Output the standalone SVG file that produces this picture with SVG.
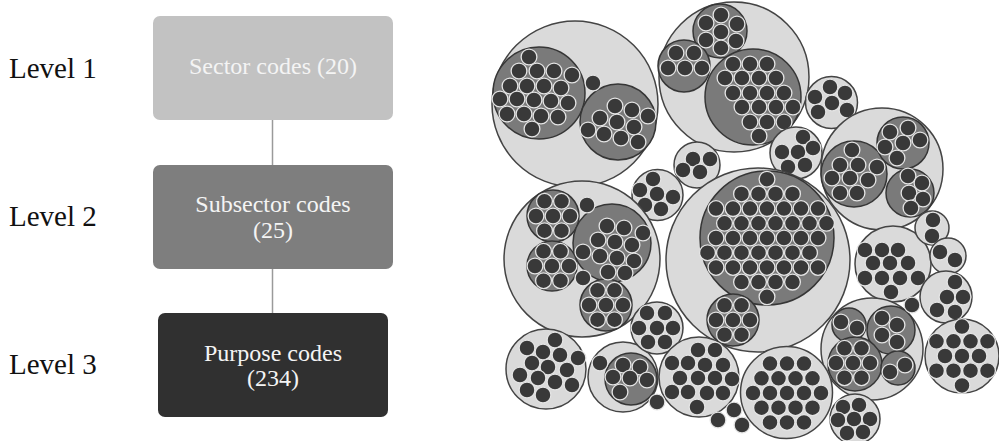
<svg xmlns="http://www.w3.org/2000/svg" width="999" height="441" viewBox="0 0 999 441">
  <style>
    .lvl{font-family:"Liberation Serif","Times New Roman",serif;font-size:29px;fill:#111}
    .bt{font-family:"Liberation Serif","Times New Roman",serif;font-size:24px;text-anchor:middle}
    .link{stroke:#9a9a9a;stroke-width:1.5;fill:none}
    .s{fill:#dadada;stroke:#444;stroke-width:1.5}
    .ss{fill:#7a7a7a;stroke:#363636;stroke-width:1.5}
    .p circle,circle.p{fill:#393939;stroke:#e4e4e4;stroke-width:1.3}
  </style>

  <!-- hierarchy legend -->
  <g id="levels">
    <text class="lvl" x="9" y="78">Level 1</text>
    <text class="lvl" x="9" y="226">Level 2</text>
    <text class="lvl" x="9" y="374">Level 3</text>
  </g>

  <g id="connectors">
    <line class="link" x1="272.5" y1="120" x2="272.5" y2="165"/>
    <line class="link" x1="272.5" y1="269" x2="272.5" y2="313"/>
  </g>

  <g id="sector-box">
    <rect x="153" y="16" width="240" height="104" rx="7" fill="#c2c2c2"/>
    <text class="bt" x="273" y="74" fill="#f4f4f4">Sector codes (20)</text>
  </g>
  <g id="subsector-box">
    <rect x="153" y="165" width="240" height="104" rx="7" fill="#7e7e7e"/>
    <text class="bt" x="273" y="212" fill="#f4f4f4">Subsector codes</text>
    <text class="bt" x="273" y="238" fill="#f4f4f4">(25)</text>
  </g>
  <g id="purpose-box">
    <rect x="158" y="313" width="230" height="104" rx="7" fill="#303030"/>
    <text class="bt" x="273" y="361" fill="#f4f4f4">Purpose codes</text>
    <text class="bt" x="273" y="386" fill="#f4f4f4">(234)</text>
  </g>

  <!-- circle packing: sectors (light) > subsectors (mid grey) > purpose codes (dots) -->
  <g id="pack">
    <g id="sA">
      <circle class="s" cx="575" cy="104" r="83"/>
      <circle class="ss" cx="539" cy="93" r="46"/>
      <circle class="ss" cx="618" cy="122" r="38"/>
      <g class="p">
        <circle cx="529" cy="57" r="7.9"/><circle cx="519" cy="71" r="7.9"/><circle cx="537" cy="71" r="7.9"/><circle cx="554" cy="71" r="7.9"/><circle cx="572" cy="75" r="7.9"/>
        <circle cx="510" cy="86" r="7.9"/><circle cx="527" cy="86" r="7.9"/><circle cx="544" cy="86" r="7.9"/><circle cx="561" cy="88" r="7.9"/>
        <circle cx="500" cy="99" r="7.9"/><circle cx="517" cy="99" r="7.9"/><circle cx="534" cy="100" r="7.9"/><circle cx="551" cy="101" r="7.9"/><circle cx="568" cy="103" r="7.9"/>
        <circle cx="507" cy="114" r="7.9"/><circle cx="524" cy="114" r="7.9"/><circle cx="541" cy="116" r="7.9"/><circle cx="558" cy="117" r="7.9"/><circle cx="532" cy="129" r="7.9"/>
        <circle cx="615" cy="106" r="7.9"/><circle cx="632" cy="110" r="7.9"/><circle cx="648" cy="116" r="7.9"/>
        <circle cx="600" cy="118" r="7.9"/><circle cx="617" cy="122" r="7.9"/><circle cx="634" cy="127" r="7.9"/>
        <circle cx="588" cy="130" r="7.9"/><circle cx="604" cy="134" r="7.9"/><circle cx="621" cy="138" r="7.9"/><circle cx="638" cy="142" r="7.9"/>
        <circle cx="593" cy="83" r="7.9"/>
      </g>
    </g>

    <g id="sB">
      <circle class="s" cx="734" cy="77" r="75"/>
      <circle class="ss" cx="720" cy="31" r="27"/>
      <circle class="ss" cx="684" cy="66" r="26"/>
      <circle class="ss" cx="753" cy="97" r="48"/>
      <g class="p">
        <circle cx="721" cy="15" r="7.9"/><circle cx="706" cy="23" r="7.9"/><circle cx="737" cy="24" r="7.9"/><circle cx="721" cy="32" r="7.9"/><circle cx="706" cy="40" r="7.9"/><circle cx="736" cy="41" r="7.9"/><circle cx="721" cy="48" r="7.9"/>
        <circle cx="676" cy="53" r="7.9"/><circle cx="694" cy="53" r="7.9"/><circle cx="668" cy="68" r="7.9"/><circle cx="685" cy="68" r="7.9"/><circle cx="702" cy="68" r="7.9"/>
        <circle cx="733" cy="64" r="7.9"/><circle cx="750" cy="64" r="7.9"/><circle cx="767" cy="64" r="7.9"/>
        <circle cx="725" cy="78" r="7.9"/><circle cx="742" cy="78" r="7.9"/><circle cx="759" cy="78" r="7.9"/><circle cx="776" cy="78" r="7.9"/>
        <circle cx="733" cy="93" r="7.9"/><circle cx="750" cy="93" r="7.9"/><circle cx="767" cy="93" r="7.9"/><circle cx="784" cy="93" r="7.9"/>
        <circle cx="742" cy="107" r="7.9"/><circle cx="759" cy="107" r="7.9"/><circle cx="776" cy="107" r="7.9"/><circle cx="793" cy="107" r="7.9"/>
        <circle cx="750" cy="122" r="7.9"/><circle cx="767" cy="122" r="7.9"/><circle cx="784" cy="122" r="7.9"/><circle cx="759" cy="136" r="7.9"/>
      </g>
    </g>

    <g id="sC">
      <circle class="s" cx="831.5" cy="102.5" r="26"/>
      <g class="p">
        <circle cx="830" cy="87" r="7.9"/><circle cx="815" cy="97" r="7.9"/><circle cx="845" cy="93" r="7.9"/><circle cx="832" cy="103" r="7.9"/><circle cx="818" cy="112" r="7.9"/><circle cx="847" cy="110" r="7.9"/>
      </g>
    </g>

    <g id="sD">
      <circle class="s" cx="882" cy="169" r="61"/>
      <circle class="ss" cx="854" cy="174" r="33"/>
      <circle class="ss" cx="903" cy="143" r="26"/>
      <circle class="ss" cx="910" cy="193" r="24"/>
      <g class="p">
        <circle cx="852" cy="150" r="7.9"/><circle cx="840" cy="165" r="7.9"/><circle cx="858" cy="165" r="7.9"/><circle cx="877" cy="167" r="7.9"/>
        <circle cx="832" cy="178" r="7.9"/><circle cx="850" cy="178" r="7.9"/><circle cx="868" cy="180" r="7.9"/><circle cx="840" cy="193" r="7.9"/><circle cx="857" cy="193" r="7.9"/>
        <circle cx="890" cy="132" r="7.9"/><circle cx="908" cy="128" r="7.9"/><circle cx="885" cy="147" r="7.9"/><circle cx="903" cy="143" r="7.9"/><circle cx="920" cy="140" r="7.9"/><circle cx="897" cy="158" r="7.9"/>
        <circle cx="908" cy="176" r="7.9"/><circle cx="922" cy="183" r="7.9"/><circle cx="909" cy="193" r="7.9"/><circle cx="923" cy="199" r="7.9"/><circle cx="911" cy="208" r="7.9"/>
      </g>
    </g>

    <g id="sE">
      <circle class="s" cx="796" cy="153" r="26"/>
      <g class="p">
        <circle cx="803" cy="137" r="7.9"/><circle cx="782" cy="152" r="7.9"/><circle cx="798" cy="152" r="7.9"/><circle cx="813" cy="148" r="7.9"/><circle cx="788" cy="167" r="7.9"/><circle cx="805" cy="165" r="7.9"/>
      </g>
    </g>

    <g id="sF">
      <circle class="s" cx="697" cy="165" r="23"/>
      <g class="p">
        <circle cx="693" cy="159" r="7.9"/><circle cx="710" cy="159" r="7.9"/><circle cx="683" cy="170" r="7.9"/><circle cx="700" cy="172" r="7.9"/>
      </g>
    </g>

    <g id="sG">
      <circle class="s" cx="657.5" cy="195" r="25.5"/>
      <g class="p">
        <circle cx="653" cy="179" r="7.9"/><circle cx="640" cy="190" r="7.9"/><circle cx="657" cy="194" r="7.9"/><circle cx="673" cy="197" r="7.9"/><circle cx="645" cy="205" r="7.9"/><circle cx="661" cy="209" r="7.9"/>
      </g>
    </g>

    <g id="sH">
      <circle class="s" cx="582" cy="259" r="78"/>
      <circle class="ss" cx="553" cy="216" r="26"/>
      <circle class="ss" cx="612" cy="243" r="39"/>
      <circle class="ss" cx="552" cy="266" r="25"/>
      <circle class="ss" cx="606" cy="305" r="26"/>
      <g class="p">
        <circle cx="553" cy="216" r="7.9"/><circle cx="536" cy="216" r="7.9"/><circle cx="570" cy="216" r="7.9"/><circle cx="544.5" cy="201.3" r="7.9"/><circle cx="561.5" cy="201.3" r="7.9"/><circle cx="544.5" cy="230.7" r="7.9"/><circle cx="561.5" cy="230.7" r="7.9"/>
        <circle cx="607" cy="226" r="7.9"/><circle cx="624" cy="228" r="7.9"/><circle cx="643" cy="233" r="7.9"/>
        <circle cx="598" cy="240" r="7.9"/><circle cx="615" cy="242" r="7.9"/><circle cx="632" cy="245" r="7.9"/>
        <circle cx="583" cy="252" r="7.9"/><circle cx="600" cy="256" r="7.9"/><circle cx="617" cy="258" r="7.9"/><circle cx="634" cy="261" r="7.9"/>
        <circle cx="608" cy="272" r="7.9"/><circle cx="625" cy="273" r="7.9"/>
        <circle cx="552" cy="266" r="7.9"/><circle cx="535" cy="266" r="7.9"/><circle cx="569" cy="266" r="7.9"/><circle cx="543.5" cy="251.3" r="7.9"/><circle cx="560.5" cy="251.3" r="7.9"/><circle cx="543.5" cy="280.7" r="7.9"/><circle cx="560.5" cy="280.7" r="7.9"/>
        <circle cx="606" cy="305" r="7.9"/><circle cx="589" cy="305" r="7.9"/><circle cx="623" cy="305" r="7.9"/><circle cx="597.5" cy="290.3" r="7.9"/><circle cx="614.5" cy="290.3" r="7.9"/><circle cx="597.5" cy="319.7" r="7.9"/><circle cx="614.5" cy="319.7" r="7.9"/>
        <circle cx="587" cy="205" r="7.9"/><circle cx="583" cy="278" r="7.9"/>
      </g>
    </g>

    <g id="sI">
      <circle class="s" cx="758" cy="260" r="92"/>
      <circle class="ss" cx="767" cy="238" r="67"/>
      <circle class="ss" cx="733" cy="320" r="26"/>
      <g class="p">
        <circle cx="767" cy="179.2" r="7.9"/>
        <circle cx="741.5" cy="193.9" r="7.9"/><circle cx="758.5" cy="193.9" r="7.9"/><circle cx="775.5" cy="193.9" r="7.9"/><circle cx="792.5" cy="193.9" r="7.9"/>
        <circle cx="716" cy="208.6" r="7.9"/><circle cx="733" cy="208.6" r="7.9"/><circle cx="750" cy="208.6" r="7.9"/><circle cx="767" cy="208.6" r="7.9"/><circle cx="784" cy="208.6" r="7.9"/><circle cx="801" cy="208.6" r="7.9"/><circle cx="818" cy="208.6" r="7.9"/>
        <circle cx="724.5" cy="223.3" r="7.9"/><circle cx="741.5" cy="223.3" r="7.9"/><circle cx="758.5" cy="223.3" r="7.9"/><circle cx="775.5" cy="223.3" r="7.9"/><circle cx="792.5" cy="223.3" r="7.9"/><circle cx="809.5" cy="223.3" r="7.9"/><circle cx="826.5" cy="223.3" r="7.9"/>
        <circle cx="716" cy="238" r="7.9"/><circle cx="733" cy="238" r="7.9"/><circle cx="750" cy="238" r="7.9"/><circle cx="767" cy="238" r="7.9"/><circle cx="784" cy="238" r="7.9"/><circle cx="801" cy="238" r="7.9"/><circle cx="818" cy="238" r="7.9"/>
        <circle cx="707.5" cy="252.7" r="7.9"/><circle cx="724.5" cy="252.7" r="7.9"/><circle cx="741.5" cy="252.7" r="7.9"/><circle cx="758.5" cy="252.7" r="7.9"/><circle cx="775.5" cy="252.7" r="7.9"/><circle cx="792.5" cy="252.7" r="7.9"/><circle cx="809.5" cy="252.7" r="7.9"/>
        <circle cx="716" cy="267.4" r="7.9"/><circle cx="733" cy="267.4" r="7.9"/><circle cx="750" cy="267.4" r="7.9"/><circle cx="767" cy="267.4" r="7.9"/><circle cx="784" cy="267.4" r="7.9"/><circle cx="801" cy="267.4" r="7.9"/><circle cx="818" cy="267.4" r="7.9"/>
        <circle cx="741.5" cy="282.1" r="7.9"/><circle cx="758.5" cy="282.1" r="7.9"/><circle cx="775.5" cy="282.1" r="7.9"/><circle cx="792.5" cy="282.1" r="7.9"/>
        <circle cx="767" cy="296.8" r="7.9"/>
        <circle cx="733" cy="320" r="7.9"/><circle cx="716" cy="320" r="7.9"/><circle cx="750" cy="320" r="7.9"/><circle cx="724.5" cy="305.3" r="7.9"/><circle cx="741.5" cy="305.3" r="7.9"/><circle cx="724.5" cy="334.7" r="7.9"/><circle cx="741.5" cy="334.7" r="7.9"/>
      </g>
    </g>

    <g id="sJ">
      <circle class="s" cx="893" cy="264" r="38"/>
      <g class="p">
        <circle cx="865" cy="250" r="7.9"/><circle cx="882" cy="250" r="7.9"/><circle cx="898" cy="250" r="7.9"/>
        <circle cx="873" cy="263" r="7.9"/><circle cx="890" cy="263" r="7.9"/><circle cx="908" cy="263" r="7.9"/>
        <circle cx="865" cy="278" r="7.9"/><circle cx="882" cy="278" r="7.9"/><circle cx="900" cy="278" r="7.9"/><circle cx="918" cy="278" r="7.9"/>
        <circle cx="891" cy="292" r="7.9"/>
      </g>
    </g>

    <g id="sK">
      <circle class="s" cx="932" cy="228" r="17"/>
      <g class="p"><circle cx="933" cy="220" r="7.9"/><circle cx="932" cy="236" r="7.9"/></g>
    </g>
    <g id="sL">
      <circle class="s" cx="948" cy="256" r="18"/>
      <g class="p"><circle cx="940" cy="252" r="7.9"/><circle cx="955" cy="260" r="7.9"/></g>
    </g>
    <g id="sM">
      <circle class="s" cx="946" cy="297" r="26"/>
      <g class="p">
        <circle cx="955" cy="282" r="7.9"/><circle cx="947" cy="297" r="7.9"/><circle cx="963" cy="297" r="7.9"/><circle cx="937" cy="310" r="7.9"/><circle cx="955" cy="312" r="7.9"/>
      </g>
    </g>
    <g id="sN">
      <circle class="s" cx="962" cy="356" r="37"/>
      <g class="p">
        <circle cx="962" cy="326.6" r="7.9"/>
        <circle cx="936.5" cy="341.3" r="7.9"/><circle cx="953.5" cy="341.3" r="7.9"/><circle cx="970.5" cy="341.3" r="7.9"/><circle cx="987.5" cy="341.3" r="7.9"/>
        <circle cx="945" cy="356" r="7.9"/><circle cx="962" cy="356" r="7.9"/><circle cx="979" cy="356" r="7.9"/>
        <circle cx="936.5" cy="370.7" r="7.9"/><circle cx="953.5" cy="370.7" r="7.9"/><circle cx="970.5" cy="370.7" r="7.9"/><circle cx="987.5" cy="370.7" r="7.9"/>
        <circle cx="962" cy="385.4" r="7.9"/>
      </g>
    </g>

    <g id="sO">
      <circle class="s" cx="872" cy="349" r="51"/>
      <circle class="ss" cx="849" cy="325" r="17"/>
      <circle class="ss" cx="891" cy="330" r="24"/>
      <circle class="ss" cx="855" cy="364" r="27"/>
      <circle class="ss" cx="898" cy="368" r="17"/>
      <g class="p">
        <circle cx="841" cy="322" r="7.9"/><circle cx="857" cy="328" r="7.9"/>
        <circle cx="882" cy="318" r="7.9"/><circle cx="897" cy="325" r="7.9"/><circle cx="882" cy="335" r="7.9"/><circle cx="897" cy="342" r="7.9"/>
        <circle cx="853" cy="363" r="7.9"/><circle cx="836" cy="363" r="7.9"/><circle cx="870" cy="363" r="7.9"/><circle cx="844.5" cy="348.3" r="7.9"/><circle cx="861.5" cy="348.3" r="7.9"/><circle cx="844.5" cy="377.7" r="7.9"/><circle cx="861.5" cy="377.7" r="7.9"/>
        <circle cx="890" cy="372" r="7.9"/><circle cx="905" cy="365" r="7.9"/>
      </g>
    </g>

    <g id="sP">
      <circle class="s" cx="786.5" cy="392.5" r="46"/>
      <g class="p">
        <circle cx="770" cy="363.6" r="7.9"/><circle cx="787" cy="363.6" r="7.9"/><circle cx="804" cy="363.6" r="7.9"/>
        <circle cx="761.5" cy="378.3" r="7.9"/><circle cx="778.5" cy="378.3" r="7.9"/><circle cx="795.5" cy="378.3" r="7.9"/><circle cx="812.5" cy="378.3" r="7.9"/>
        <circle cx="753" cy="393" r="7.9"/><circle cx="770" cy="393" r="7.9"/><circle cx="787" cy="393" r="7.9"/><circle cx="804" cy="393" r="7.9"/><circle cx="821" cy="393" r="7.9"/>
        <circle cx="761.5" cy="407.7" r="7.9"/><circle cx="778.5" cy="407.7" r="7.9"/><circle cx="795.5" cy="407.7" r="7.9"/><circle cx="812.5" cy="407.7" r="7.9"/>
        <circle cx="770" cy="422.4" r="7.9"/><circle cx="787" cy="422.4" r="7.9"/><circle cx="804" cy="422.4" r="7.9"/>
      </g>
    </g>

    <g id="sQ">
      <circle class="s" cx="855" cy="419" r="25"/>
      <g class="p">
        <circle cx="843" cy="407" r="7.9"/><circle cx="859" cy="405" r="7.9"/><circle cx="838" cy="420" r="7.9"/><circle cx="854" cy="419" r="7.9"/><circle cx="870" cy="419" r="7.9"/><circle cx="847" cy="433" r="7.9"/><circle cx="863" cy="432" r="7.9"/>
      </g>
    </g>

    <g id="sS">
      <circle class="s" cx="546" cy="369" r="40"/>
      <g class="p">
        <circle cx="555" cy="340" r="7.9"/>
        <circle cx="527" cy="348" r="7.9"/><circle cx="543" cy="352" r="7.9"/><circle cx="560" cy="355" r="7.9"/><circle cx="578" cy="358" r="7.9"/>
        <circle cx="532" cy="363" r="7.9"/><circle cx="548" cy="367" r="7.9"/><circle cx="567" cy="370" r="7.9"/>
        <circle cx="520" cy="375" r="7.9"/><circle cx="538" cy="378" r="7.9"/><circle cx="555" cy="382" r="7.9"/><circle cx="572" cy="385" r="7.9"/>
        <circle cx="527" cy="390" r="7.9"/><circle cx="543" cy="395" r="7.9"/>
      </g>
    </g>

    <g id="sT">
      <circle class="s" cx="623" cy="377" r="35"/>
      <circle class="ss" cx="631" cy="379" r="26"/>
      <g class="p">
        <circle cx="600" cy="363" r="7.9"/>
        <circle cx="623" cy="365" r="7.9"/><circle cx="640" cy="367" r="7.9"/><circle cx="613" cy="377" r="7.9"/><circle cx="630" cy="378" r="7.9"/><circle cx="647" cy="380" r="7.9"/><circle cx="620" cy="392" r="7.9"/>
      </g>
    </g>

    <g id="sU">
      <circle class="s" cx="657" cy="328" r="26"/>
      <g class="p">
        <circle cx="647" cy="313" r="7.9"/><circle cx="665" cy="313" r="7.9"/><circle cx="639" cy="328" r="7.9"/><circle cx="657" cy="328" r="7.9"/><circle cx="673" cy="328" r="7.9"/><circle cx="648" cy="342" r="7.9"/><circle cx="665" cy="342" r="7.9"/>
      </g>
    </g>

    <g id="sV">
      <circle class="s" cx="699" cy="377" r="40"/>
      <g class="p">
        <circle cx="698" cy="350" r="7.9"/><circle cx="715" cy="350" r="7.9"/>
        <circle cx="672" cy="363" r="7.9"/><circle cx="688" cy="363" r="7.9"/><circle cx="705" cy="365" r="7.9"/><circle cx="723" cy="365" r="7.9"/>
        <circle cx="680" cy="378" r="7.9"/><circle cx="698" cy="378" r="7.9"/><circle cx="715" cy="378" r="7.9"/><circle cx="732" cy="379" r="7.9"/>
        <circle cx="672" cy="392" r="7.9"/><circle cx="688" cy="392" r="7.9"/><circle cx="707" cy="393" r="7.9"/><circle cx="723" cy="393" r="7.9"/>
        <circle cx="697" cy="407" r="7.9"/>
      </g>
    </g>

    <!-- purpose codes sitting directly in the root -->
    <g id="loose" class="p">
      <circle cx="657" cy="402" r="7.9"/>
      <circle cx="718" cy="420" r="7.9"/><circle cx="734" cy="410" r="7.9"/><circle cx="742" cy="425" r="7.9"/>
      <circle cx="912" cy="305" r="7.9"/>
    </g>
  </g>
</svg>
